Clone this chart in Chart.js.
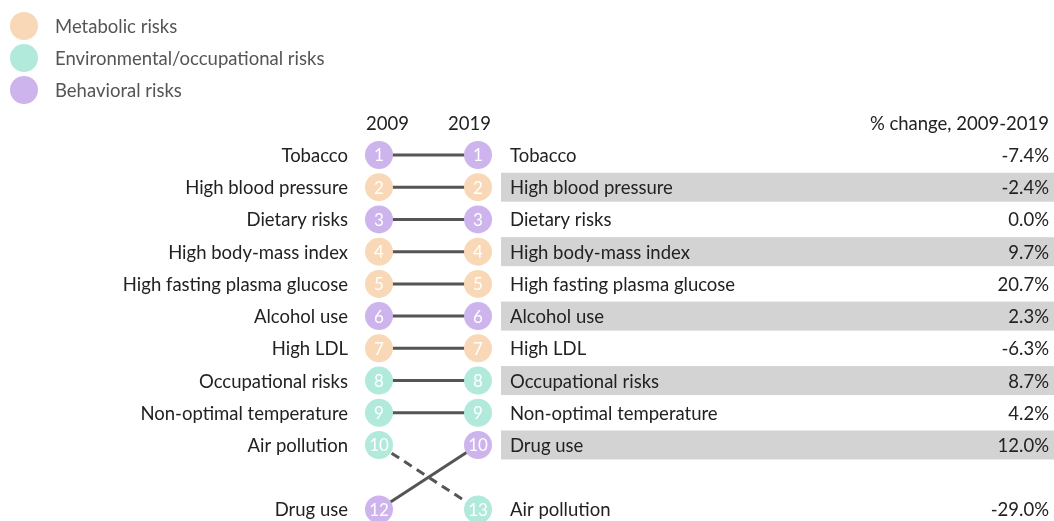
<!DOCTYPE html>
<html>
<head>
<meta charset="utf-8">
<script src="https://cdn.jsdelivr.net/npm/chart.js@4"></script>
<style>
  html, body { margin: 0; padding: 0; background: #fff; }
  #wrap { width: 1054px; height: 521px; position: relative; }
</style>
</head>
<body>
<div id="wrap"><canvas id="rankChart"></canvas></div>
<script>
// risk factors, in 2009 order
const factors = [
  "Tobacco", "High blood pressure", "Dietary risks", "High body-mass index",
  "High fasting plasma glucose", "Alcohol use", "High LDL", "Occupational risks",
  "Non-optimal temperature", "Air pollution", "Drug use"
];
const rank2009 = [1, 2, 3, 4, 5, 6, 7, 8, 9, 10, 12];
const rank2019 = [1, 2, 3, 4, 5, 6, 7, 8, 9, 13, 10];
const pctChange = ["-7.4%", "-2.4%", "0.0%", "9.7%", "20.7%", "2.3%", "-6.3%", "8.7%", "4.2%", "-29.0%", "12.0%"];
const category = ["beh", "met", "beh", "met", "met", "beh", "met", "env", "env", "env", "beh"];
const years = ["2009", "2019"];

const categories = ["met", "env", "beh"];
const categoryNames = ["Metabolic risks", "Environmental/occupational risks", "Behavioral risks"];
const categoryColors = { met: "#f8d8b6", env: "#b1eadb", beh: "#cdb4ec" };

const FONT = "Lato, 'Open Sans', sans-serif";
const TEXT_SIZE = 18.5;

// ranks past 10 share one row at the bottom, after a gap
function rowOf(rank) {
  return Math.min(rank, 12);
}

const datasets = factors.map((name, i) => ({
  label: name,
  data: [
    { x: 0, y: rowOf(rank2009[i]) },
    { x: 1, y: rowOf(rank2019[i]) },
  ],
  borderColor: "#555",
  borderWidth: 3,
  borderDash: rank2019[i] > rank2009[i] ? [9, 6] : [],
  pointRadius: 14,
  pointHoverRadius: 14,
  pointBorderWidth: 0,
  pointBackgroundColor: categoryColors[category[i]],
  fill: false,
}));

const labelPlugin = {
  id: "rankLabels",
  beforeDatasetsDraw(chart) {
    const c = chart.ctx;
    const xs = chart.scales.x;
    const ys = chart.scales.y;
    // gray bands behind even 2019 rows
    c.save();
    c.fillStyle = "#d3d3d3";
    factors.forEach((name, i) => {
      if (rank2019[i] % 2 === 0) {
        const y = ys.getPixelForValue(rowOf(rank2019[i]));
        c.fillRect(xs.getPixelForValue(1) + 23, y - 14.5, chart.width, 29);
      }
    });
    c.restore();
  },
  afterDatasetsDraw(chart) {
    const c = chart.ctx;
    const xs = chart.scales.x;
    const x0 = xs.getPixelForValue(0);
    const x1 = xs.getPixelForValue(1);
    c.save();
    c.textBaseline = "middle";

    // legend
    c.font = TEXT_SIZE + "px " + FONT;
    categories.forEach((cat, k) => {
      const y = 26 + k * 32;
      c.fillStyle = categoryColors[cat];
      c.beginPath();
      c.arc(24, y, 14, 0, Math.PI * 2);
      c.fill();
      c.fillStyle = "#555";
      c.textAlign = "left";
      c.fillText(categoryNames[k], 55, y + 1);
    });

    // headers
    const hy = 124;
    c.fillStyle = "#222";
    c.textAlign = "left";
    c.fillText(years[0], x0 - 13, hy);
    c.textAlign = "right";
    c.fillText(years[1], x1 + 13, hy);
    c.fillText("% change, 2009-2019", chart.width - 5, hy);

    factors.forEach((name, i) => {
      const meta = chart.getDatasetMeta(i);
      const p0 = meta.data[0];
      const p1 = meta.data[1];
      c.font = TEXT_SIZE + "px " + FONT;
      c.fillStyle = "#222";
      c.textAlign = "right";
      c.fillText(name, p0.x - 31, p0.y + 1);
      c.textAlign = "left";
      c.fillText(name, p1.x + 32, p1.y + 1);
      c.textAlign = "right";
      c.fillText(pctChange[i], chart.width - 5, p1.y + 1);
      // rank numbers inside the circles
      c.font = "17px " + FONT;
      c.fillStyle = "#fff";
      c.textAlign = "center";
      c.fillText(String(rank2009[i]), p0.x, p0.y + 1);
      c.fillText(String(rank2019[i]), p1.x, p1.y + 1);
    });
    c.restore();
  },
};

const ctx = document.getElementById("rankChart").getContext("2d");
const chart = new Chart(ctx, {
  type: "line",
  data: { datasets: datasets },
  options: {
    responsive: true,
    maintainAspectRatio: false,
    animation: false,
    layout: { padding: 0, autoPadding: false },
    plugins: {
      legend: { display: false },
      tooltip: { enabled: false },
    },
    scales: {
      x: { type: "linear", display: false, min: -379 / 99, max: 675 / 99 },
      y: { type: "linear", display: false, reverse: true, min: 1 - 155 / 32.22, max: 1 + 366 / 32.22 },
    },
  },
  plugins: [labelPlugin],
});
</script>
</body>
</html>
